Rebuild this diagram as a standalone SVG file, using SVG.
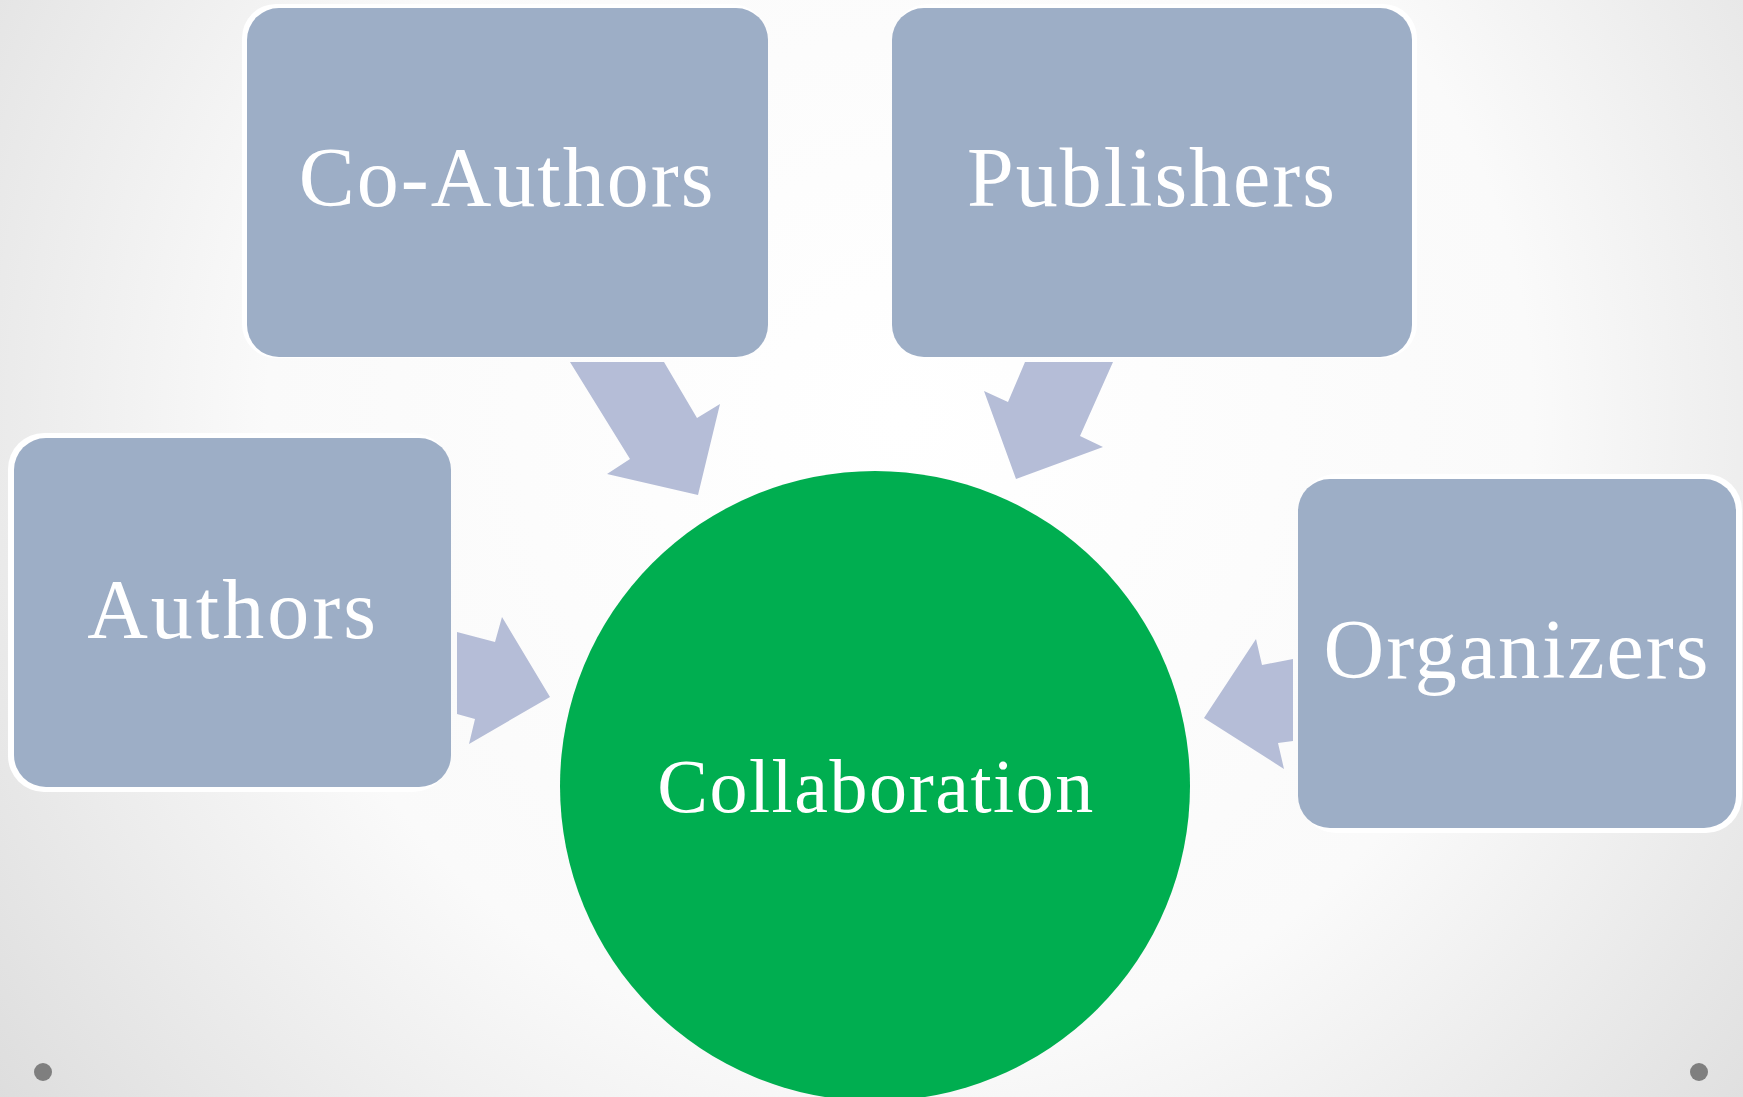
<svg xmlns="http://www.w3.org/2000/svg" width="1743" height="1097" viewBox="0 0 1743 1097">
  <defs>
    <radialGradient id="bg" cx="900" cy="420" r="1150" gradientUnits="userSpaceOnUse">
      <stop offset="0" stop-color="#FFFFFF"/>
      <stop offset="0.55" stop-color="#FAFAFA"/>
      <stop offset="1" stop-color="#DCDCDC"/>
    </radialGradient>
  </defs>
  <style>
    .box { fill: #9DAEC6; }
    .halo { fill: #FFFFFF; }
    .arrow { fill: #B5BDD7; }
    .lbl { font-family: "Liberation Serif", "Times New Roman", serif; fill: #FFFFFF; text-anchor: middle; font-size: 84px; letter-spacing: 2px; }
    .dot { fill: #7F7F7F; }
  </style>
  <rect x="0" y="0" width="1743" height="1097" fill="url(#bg)"/>

  <g id="connectors">
    <polygon class="arrow" points="570,362 664,362 697,418 720,404 698,495 607,474 630,459"/>
    <polygon class="arrow" points="1025,362 1113,362 1080,436 1103,447 1016,479 984,391 1008,402"/>
    <polygon class="arrow" points="457,632 495,642 502,617 550,697 469,744 475,719 457,714"/>
    <polygon class="arrow" points="1293,659 1293,741 1278,743 1284,769 1204,718 1256,639 1262,665"/>
  </g>

  <g id="coauthors">
    <rect class="halo" x="242" y="4" width="524" height="354" rx="34"/>
    <rect class="box" x="247" y="8" width="521" height="349" rx="32"/>
    <text class="lbl" x="507" y="206">Co-Authors</text>
  </g>

  <g id="publishers">
    <rect class="halo" x="894" y="4" width="523" height="354" rx="34"/>
    <rect class="box" x="892" y="8" width="520" height="349" rx="32"/>
    <text class="lbl" x="1152" y="206">Publishers</text>
  </g>

  <g id="authors">
    <rect class="halo" x="8" y="433" width="441" height="359" rx="36"/>
    <rect class="box" x="14" y="438" width="437" height="349" rx="32"/>
    <text class="lbl" x="233" y="638" style="letter-spacing:3px">Authors</text>
  </g>

  <g id="organizers">
    <rect class="halo" x="1300" y="474" width="442" height="359" rx="36"/>
    <rect class="box" x="1298" y="479" width="438" height="349" rx="32"/>
    <text class="lbl" x="1517" y="678">Organizers</text>
  </g>

  <g id="collaboration">
    <circle cx="875" cy="786" r="315" fill="#00AE50"/>
    <text class="lbl" x="876" y="812" style="font-size:76px; letter-spacing:1.5px">Collaboration</text>
  </g>

  <circle class="dot" cx="43" cy="1072" r="9"/>
  <circle class="dot" cx="1699" cy="1072" r="9"/>
</svg>
